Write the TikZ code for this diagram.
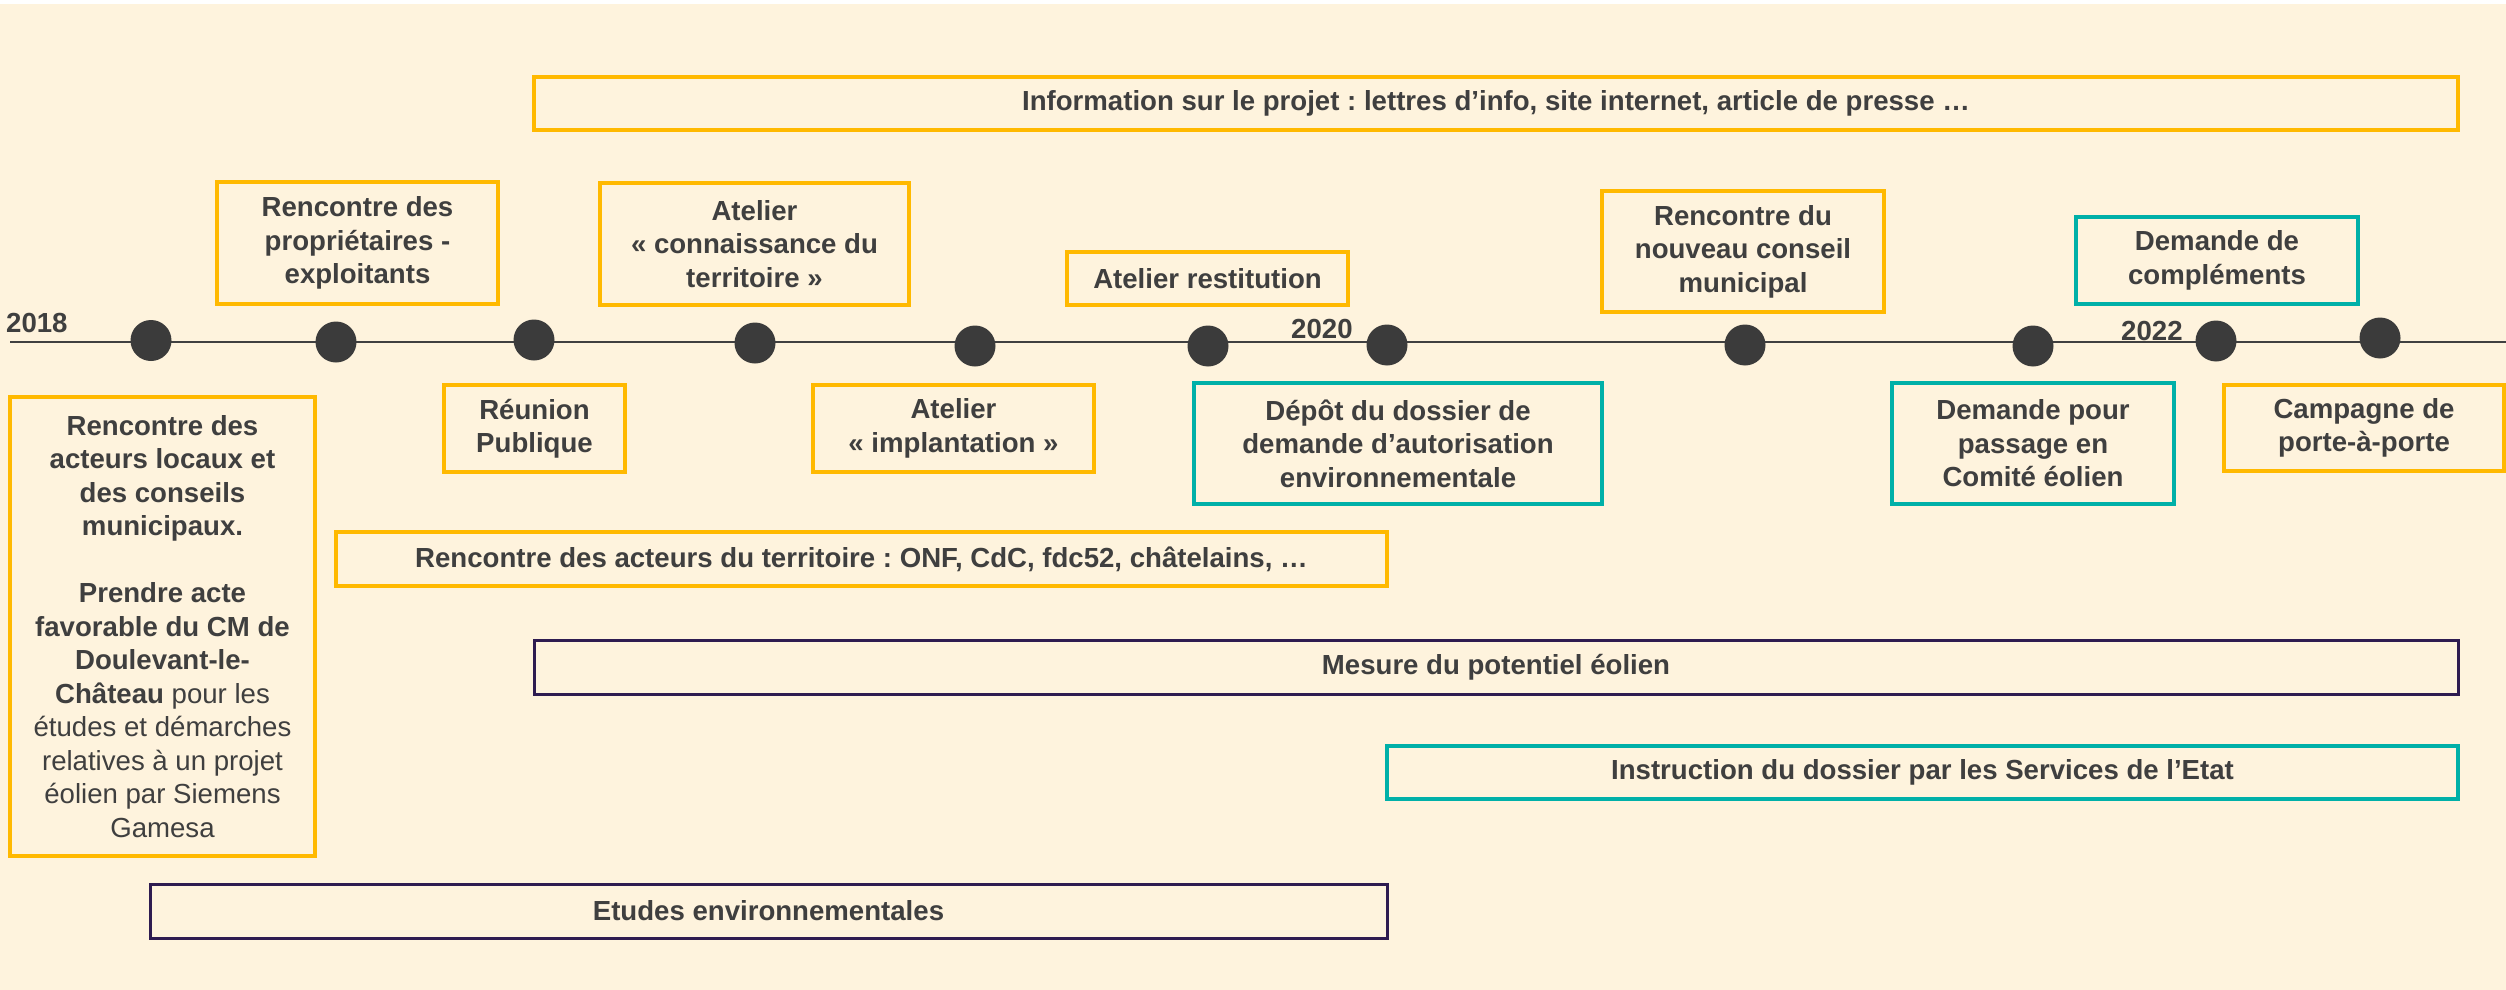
\documentclass[tikz,border=0pt]{standalone}
\usepackage{fontspec}
\setmainfont{Liberation Sans}
\frenchspacing
\definecolor{bgc}{HTML}{FEF3DD}
\definecolor{orng}{HTML}{FFB900}
\definecolor{tealc}{HTML}{00B0A8}
\definecolor{purp}{HTML}{2E1B50}
\definecolor{txt}{HTML}{3F3F3F}
\definecolor{dotc}{HTML}{3B3B3B}
\definecolor{linec}{HTML}{404040}
\begin{document}
\begin{tikzpicture}[x=1pt,y=-1pt,
  box/.style={draw, line width=3.2pt, align=center, text=txt, inner sep=0pt,
    font=\bfseries\fontsize{27.6}{33.5}\selectfont},
  obox/.style={box, draw=orng},
  tbox/.style={box, draw=tealc},
  pbox/.style={box, draw=purp, line width=3pt},
  tdot/.style={circle, fill=dotc, minimum size=41pt, inner sep=0pt},
  year/.style={anchor=base west, inner sep=0pt, text=txt, font=\bfseries\fontsize{27.6}{33.5}\selectfont}]
\useasboundingbox (0,0) rectangle (2506,990);
\fill[white] (0,0) rectangle (2506,4);
\fill[bgc] (0,4) rectangle (2506,990);

% timeline
\coordinate (tl0) at (10,341.5);
\coordinate (tl1) at (2506,341.5);
\draw[linec, line width=2pt] (tl0) -- (tl1);

\node[tdot] (d1) at (151,340.5) {};
\node[tdot] (d2) at (336,342) {};
\node[tdot] (d3) at (534,340) {};
\node[tdot] (d4) at (755,343) {};
\node[tdot] (d5) at (975,346) {};
\node[tdot] (d6) at (1208,346) {};
\node[tdot] (d7) at (1387,345) {};
\node[tdot] (d8) at (1745,345) {};
\node[tdot] (d9) at (2033,346) {};
\node[tdot] (d10) at (2216,341) {};
\node[tdot] (d11) at (2380,338) {};

\node[year] (y2018) at (6,332) {2018};
\node[year] (y2020) at (1291,338) {2020};
\node[year] (y2022) at (2121,340) {2022};

% top boxes
\node[obox, minimum width=1924pt, minimum height=53pt] (info) at (1496,103.5)
  {Information sur le projet : lettres d’info, site internet, article de presse …};
\node[obox, minimum width=281pt, minimum height=122pt] (prop) at (357.5,243)
  {Rencontre des\\propriétaires -\\exploitants};
\node[obox, minimum width=309pt, minimum height=122pt] (conn) at (754.5,244)
  {Atelier\\« connaissance du\\territoire »};
\node[obox, minimum width=281pt, minimum height=53pt] (rest) at (1207.5,278.5)
  {Atelier restitution};
\node[obox, minimum width=282pt, minimum height=121pt] (nouv) at (1743,251.5)
  {Rencontre du\\nouveau conseil\\municipal};
\node[tbox, minimum width=282pt, minimum height=87pt] (compl) at (2217,260.5)
  {Demande de\\compléments};

% bottom boxes
\node[obox, minimum width=305pt, minimum height=459pt] (left) at (162.5,626.5)
  {Rencontre des\\acteurs locaux et\\des conseils\\municipaux.\\[33.5pt]Prendre acte\\favorable du CM de\\Doulevant-le-\\Château {\mdseries pour les}\\{\mdseries études et démarches}\\{\mdseries relatives à un projet}\\{\mdseries éolien par Siemens}\\{\mdseries Gamesa}};
\node[obox, minimum width=181pt, minimum height=87pt] (reun) at (534.5,428.5)
  {Réunion\\Publique};
\node[obox, minimum width=281pt, minimum height=87pt] (impl) at (953.5,428.5)
  {Atelier\\« implantation »};
\node[tbox, minimum width=408pt, minimum height=121pt] (depot) at (1398,443.5)
  {Dépôt du dossier de\\demande d’autorisation\\environnementale};
\node[tbox, minimum width=282pt, minimum height=121pt] (dpour) at (2033,443.5)
  {Demande pour\\passage en\\Comité éolien};
\node[obox, minimum width=280pt, minimum height=86pt] (camp) at (2364,428)
  {Campagne de\\porte-à-porte};

% long bars
\node[obox, minimum width=1051pt, minimum height=54pt] (acteurs) at (861.5,559)
  {Rencontre des acteurs du territoire : ONF, CdC, fdc52, châtelains, …};
\node[pbox, minimum width=1924pt, minimum height=54pt] (mesure) at (1496,667)
  {Mesure du potentiel éolien};
\node[tbox, minimum width=1071pt, minimum height=53pt] (instr) at (1922.5,772.5)
  {Instruction du dossier par les Services de l’Etat};
\node[pbox, minimum width=1237pt, minimum height=54pt] (etudes) at (768.5,911)
  {Etudes environnementales};
\end{tikzpicture}
\end{document}
